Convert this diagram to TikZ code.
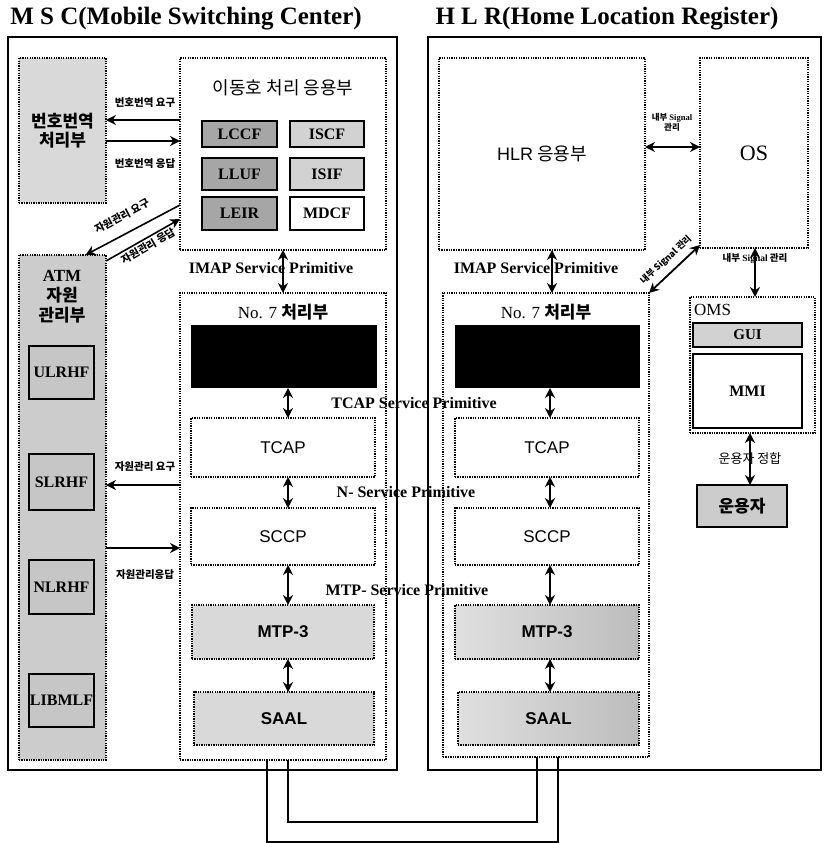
\documentclass[tikz,border=0pt]{standalone}
\usepackage{fontspec}
\setmainfont{Liberation Serif}
\newfontfamily\ko{Noto Sans CJK KR}
\newfontfamily\ar{Liberation Sans}
\usetikzlibrary{arrows.meta}
\tikzset{
 base/.style={inner sep=0pt, outer sep=0pt, anchor=north west},
 dotbox/.style={base, draw, line width=1.3pt, dash pattern=on 1.3pt off 1.1pt},
 solbox/.style={base, draw, line width=2pt},
 outerbox/.style={base, draw, line width=1.6pt},
 dbl/.style={line width=1.8pt, {Stealth[length=10pt,width=10pt]}-{Stealth[length=10pt,width=10pt]}},
 sarr/.style={line width=1.6pt, -{Stealth[length=10pt,width=10pt]}},
 wire/.style={line width=1.2pt},
 lbl/.style={font=\ko\bfseries\fontsize{10.5}{11}\selectfont, inner sep=1pt},
 prim/.style={font=\bfseries\fontsize{16}{18}\selectfont, inner sep=0pt},
 serb/.style={font=\bfseries\fontsize{16}{16}\selectfont},
 sansl/.style={font=\ar\fontsize{17}{17}\selectfont},
 sansb/.style={font=\ar\bfseries\fontsize{17}{17}\selectfont},
 kob/.style={font=\ko\bfseries\fontsize{17}{17}\selectfont},
}
\begin{document}
\begin{tikzpicture}[x=1pt,y=-1pt]
\useasboundingbox (0,0) rectangle (824,843);

% titles
\node[font=\bfseries\fontsize{25}{26}\selectfont] (t1) at (186,19) {M S C(Mobile Switching Center)};
\node[font=\bfseries\fontsize{25}{26}\selectfont] (t2) at (607,19) {H L R(Home Location Register)};

% outer boxes
\node[outerbox, minimum width=389pt, minimum height=733pt] (msc) at (8,37) {};
\node[outerbox, minimum width=393pt, minimum height=733pt] (hlr) at (428,37) {};

% ---------- MSC ----------
\node[dotbox, fill=gray!30, minimum width=87pt, minimum height=145pt, align=center,
      font=\ko\bfseries\fontsize{17}{19}\selectfont] (bb) at (19,58) {번호번역\\처리부};
\node[dotbox, minimum width=206pt, minimum height=192pt] (app) at (180,58) {};
\node[font=\ko\fontsize{18}{18}\selectfont] (appt) at (283,88) {이동호 처리 응용부};

\node[solbox, fill=gray!70, minimum width=75pt, minimum height=26pt, serb] (lccf) at (202,121) {LCCF};
\node[solbox, fill=gray!35, minimum width=74pt, minimum height=26pt, serb] (iscf) at (290,121) {ISCF};
\node[solbox, fill=gray!70, minimum width=75pt, minimum height=32pt, serb] (lluf) at (202,158) {LLUF};
\node[solbox, fill=gray!35, minimum width=74pt, minimum height=32pt, serb] (isif) at (290,158) {ISIF};
\node[solbox, fill=gray!70, minimum width=75pt, minimum height=33pt, serb] (leir) at (202,197) {LEIR};
\node[solbox, fill=white, minimum width=74pt, minimum height=33pt, serb] (mdcf) at (290,197) {MDCF};

\node[dotbox, fill=gray!40, minimum width=87pt, minimum height=505pt] (atm) at (19,255) {};
\node[align=center, font=\bfseries\fontsize{17}{20}\selectfont] (atmt) at (62,297) {ATM\\{\ko 자원}\\{\ko 관리부}};
\node[solbox, fill=gray!45, minimum width=65pt, minimum height=53pt, serb] (ulrhf) at (29,346) {ULRHF};
\node[solbox, fill=gray!45, minimum width=65pt, minimum height=56pt, serb] (slrhf) at (29,454) {SLRHF};
\node[solbox, fill=gray!45, minimum width=65pt, minimum height=54pt, serb] (nlrhf) at (29,560) {NLRHF};
\node[solbox, fill=gray!45, minimum width=65pt, minimum height=53pt, serb] (libmlf) at (29,674) {LIBMLF};

\node[dotbox, minimum width=206pt, minimum height=467pt] (n7a) at (180,293) {};
\node[font=\fontsize{17}{17}\selectfont] (n7at) at (283,312) {No. 7 {\ko\bfseries 처리부}};
\node[base, fill=black, minimum width=186pt, minimum height=63pt] (blk1) at (191,325) {};
\node[dotbox, minimum width=184pt, minimum height=59pt, sansl] (tcap1) at (191,418) {TCAP};
\node[dotbox, minimum width=184pt, minimum height=57pt, sansl] (sccp1) at (191,508) {SCCP};
\node[dotbox, fill=gray!30, minimum width=182pt, minimum height=54pt, sansb] (mtp1) at (192,605) {MTP-3};
\node[dotbox, fill=gray!30, minimum width=180pt, minimum height=53pt, sansb] (saal1) at (194,692) {SAAL};

% ---------- HLR ----------
\node[dotbox, minimum width=206pt, minimum height=192pt, font=\ko\fontsize{18}{18}\selectfont] (app2) at (439,58) {{\ar HLR} 응용부};
\node[dotbox, minimum width=108pt, minimum height=190pt, font=\fontsize{22}{22}\selectfont] (os) at (700,58) {OS};
\node[dotbox, minimum width=206pt, minimum height=464pt] (n7b) at (443,293) {};
\node[font=\fontsize{17}{17}\selectfont] (n7bt) at (546,312) {No. 7 {\ko\bfseries 처리부}};
\node[base, fill=black, minimum width=185pt, minimum height=63pt] (blk2) at (455,325) {};
\node[dotbox, minimum width=184pt, minimum height=59pt, sansl] (tcap2) at (455,418) {TCAP};
\node[dotbox, minimum width=184pt, minimum height=57pt, sansl] (sccp2) at (455,508) {SCCP};
\node[dotbox, left color=gray!25, right color=gray!52, minimum width=184pt, minimum height=54pt, sansb] (mtp2) at (455,605) {MTP-3};
\node[dotbox, left color=gray!25, right color=gray!52, minimum width=181pt, minimum height=53pt, sansb] (saal2) at (458,692) {SAAL};

\node[dotbox, minimum width=125pt, minimum height=136pt] (oms) at (690,297) {};
\node[anchor=west, inner sep=0pt, font=\fontsize{17}{17}\selectfont] (omst) at (694,310) {OMS};
\node[solbox, line width=1.6pt, fill=gray!35, minimum width=109pt, minimum height=24pt, font=\bfseries\fontsize{15}{15}\selectfont] (gui) at (693,323) {GUI};
\node[solbox, line width=1.6pt, fill=white, minimum width=109pt, minimum height=74pt, serb] (mmi) at (693,354) {MMI};
\node[solbox, fill=gray!40, minimum width=90pt, minimum height=42pt, kob] (op) at (697,485) {운용자};

% ---------- labels ----------
\node[lbl] (l1) at (145,103) {번호번역 요구};
\node[lbl] (l2) at (145,164) {번호번역 응답};
\node[lbl, rotate=28] (l3) at (122,216) {자원관리 요구};
\node[lbl, rotate=30] (l4) at (148,246) {자원관리 응답};
\node[lbl] (l5) at (145,467) {자원관리 요구};
\node[lbl] (l6) at (145,575) {자원관리응답};
\node[prim] (p1) at (271,268) {IMAP Service Primitive};
\node[prim] (p2) at (536,268) {IMAP Service Primitive};
\node[prim] (p3) at (414,403) {TCAP Service Primitive};
\node[prim] (p4) at (406,492) {N- Service Primitive};
\node[prim] (p5) at (407,590) {MTP- Service Primitive};
\node[lbl, align=center, font=\ko\bfseries\fontsize{8.5}{10}\selectfont] (l7) at (672,122) {내부 {\rmfamily Signal}\\관리};
\node[lbl, rotate=43, font=\ko\bfseries\fontsize{9}{9}\selectfont] (l8) at (666,260) {내부 Signal 관리};
\node[lbl, font=\ko\bfseries\fontsize{9.5}{9.5}\selectfont] (l9) at (755,259) {내부 {\rmfamily Signal} 관리};
\node[lbl, font=\ko\fontsize{13}{13}\selectfont] (l10) at (750,459) {운용자 정합};

% ---------- connectors ----------
\coordinate (r1) at (0,120);
\coordinate (r2) at (0,141);
\coordinate (r3) at (0,485);
\coordinate (r4) at (0,548);
\coordinate (ax1) at (288,0);
\coordinate (ax2) at (550,0);
\coordinate (ax3) at (552,0);
\coordinate (ax4) at (755,0);
\coordinate (ax5) at (750,0);

\draw[sarr] (app.west |- r1) -- (bb.east |- r1);
\draw[sarr] (bb.east |- r2) -- (app.west |- r2);
\draw[sarr] ([yshift=45pt]app.south west) -- ([xshift=23pt]atm.north);
\draw[sarr] ([yshift=-6pt]atm.north east) -- ([yshift=31pt]app.south west);
\draw[sarr] (n7a.west |- r3) -- (atm.east |- r3);
\draw[sarr] (atm.east |- r4) -- (n7a.west |- r4);

\draw[dbl] (app.south) -- (n7a.north);
\draw[dbl] (blk1.south -| ax1) -- (tcap1.north -| ax1);
\draw[dbl] (tcap1.south -| ax1) -- (sccp1.north -| ax1);
\draw[dbl] (sccp1.south -| ax1) -- (mtp1.north -| ax1);
\draw[dbl] (mtp1.south -| ax1) -- (saal1.north -| ax1);

\draw[dbl] (app2.south -| ax3) -- (n7b.north -| ax3);
\draw[dbl] (blk2.south -| ax2) -- (tcap2.north -| ax2);
\draw[dbl] (tcap2.south -| ax2) -- (sccp2.north -| ax2);
\draw[dbl] (sccp2.south -| ax2) -- (mtp2.north -| ax2);
\draw[dbl] (mtp2.south -| ax2) -- (saal2.north -| ax2);

\draw[dbl] ([yshift=7pt]app2.east) -- ([yshift=6pt]os.west);
\draw[dbl] (n7b.north east) -- ([yshift=3pt]os.south west);
\draw[dbl] (os.south -| ax4) -- (oms.north -| ax4);
\draw[dbl] (oms.south -| ax5) -- (op.north -| ax5);

\draw[wire] ([xshift=5pt]n7a.south) -- ++(0,62) -| ([xshift=-9pt]n7b.south);
\draw[wire] ([xshift=-16pt]n7a.south) -- ++(0,82) -| ([xshift=12pt]n7b.south);
\end{tikzpicture}
\end{document}
